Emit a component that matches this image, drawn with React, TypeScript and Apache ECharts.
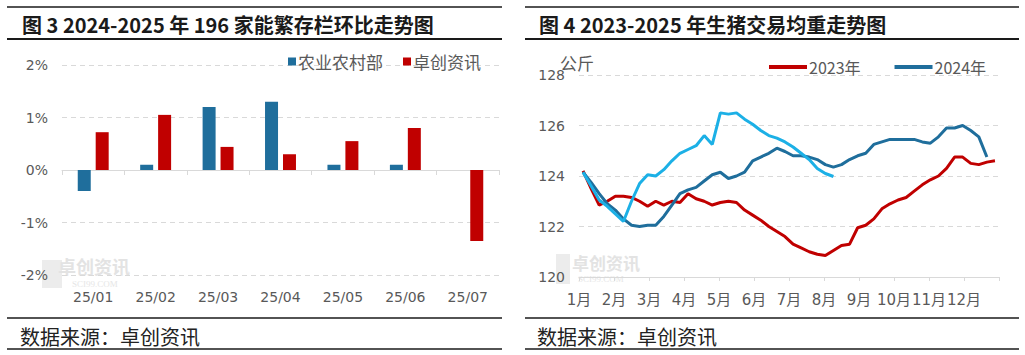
import React, { useEffect, useRef } from "react";
import * as echarts from "echarts";

// ---- Left chart (Fig. 3) ----
const barCategories = ["25/01", "25/02", "25/03", "25/04", "25/05", "25/06", "25/07"];
const moaValues: (number | null)[] = [-0.4, 0.1, 1.2, 1.3, 0.1, 0.1, null];
const sciValues: number[] = [0.72, 1.05, 0.44, 0.3, 0.55, 0.8, -1.35];

// ---- Right chart (Fig. 4) ----
const monthLabels = ["1月", "2月", "3月", "4月", "5月", "6月", "7月", "8月", "9月", "10月", "11月", "12月"];
const weekLabels = [
  "W1", "W2", "W3", "W4", "W5", "W6", "W7", "W8", "W9", "W10", "W11", "W12", "W13",
  "W14", "W15", "W16", "W17", "W18", "W19", "W20", "W21", "W22", "W23", "W24", "W25", "W26",
  "W27", "W28", "W29", "W30", "W31", "W32", "W33", "W34", "W35", "W36", "W37", "W38", "W39",
  "W40", "W41", "W42", "W43", "W44", "W45", "W46", "W47", "W48", "W49", "W50", "W51", "W52",
];
const weight2023 = [
  124.2, 123.5, 122.85, 123.0, 123.2, 123.2, 123.15, 123.0, 122.8, 123.0, 122.85, 123.0, 122.95,
  123.3, 123.1, 123.0, 122.85, 122.95, 123.0, 122.95, 122.65, 122.45, 122.25, 122.0, 121.8, 121.6,
  121.3, 121.15, 121.0, 120.9, 120.85, 121.05, 121.25, 121.3, 121.95, 122.05, 122.3, 122.7, 122.9,
  123.05, 123.15, 123.4, 123.65, 123.85, 124.0, 124.3, 124.75, 124.75, 124.5, 124.45, 124.55, 124.6,
];
const weight2024 = [
  124.15, 123.75, 123.3, 122.9, 122.65, 122.3, 122.05, 122.0, 122.05, 122.05, 122.4, 122.85, 123.3,
  123.45, 123.55, 123.8, 124.05, 124.15, 123.9, 124.0, 124.15, 124.6, 124.75, 124.9, 125.1, 124.97,
  124.8, 124.8, 124.75, 124.65, 124.45, 124.35, 124.45, 124.65, 124.8, 124.9, 125.25, 125.35, 125.45,
  125.45, 125.45, 125.45, 125.35, 125.3, 125.55, 125.9, 125.9, 126.0, 125.8, 125.55, 124.75,
];
const weight2025 = [
  124.15, 123.6, 123.05, 122.8, 122.5, 122.2, 123.0, 123.7, 124.05, 124.0, 124.25, 124.6, 124.9,
  125.05, 125.2, 125.6, 125.25, 126.5, 126.45, 126.5, 126.25, 126.05, 125.8, 125.6, 125.5, 125.35,
  125.15, 124.9, 124.65, 124.3, 124.1, 123.98,
];

const BLUE = "#1F6E9C";
const RED = "#C00000";
const LIGHT = "#1CB0E6";
const GRAY = "#595959";
const GRID_LINE = "#D9D9D9";
const NUM_FONT = "DejaVu Sans, Noto Sans CJK SC, sans-serif";
const CJK_FONT = "Noto Sans CJK SC, sans-serif";

function rule(x1: number, x2: number, y: number, w: number) {
  return {
    type: "line",
    shape: { x1, y1: y, x2, y2: y },
    style: { stroke: "#1a1a1a", lineWidth: w },
    silent: true,
  };
}

function label(text: string, x: number, y: number, fontSize: number, weight: string, fill: string, family = CJK_FONT) {
  return {
    type: "text",
    x,
    y,
    silent: true,
    style: {
      text,
      fontSize,
      fontWeight: weight,
      fontFamily: family,
      fill,
      align: "left",
      verticalAlign: "middle",
    },
  };
}

function watermark(rx: number, ry: number, rw: number, rh: number, tx: number, ty: number, ts: number, sx: number, sy: number, ss: number) {
  return {
    type: "group",
    silent: true,
    z: -10,
    children: [
      { type: "rect", shape: { x: rx, y: ry, width: rw, height: rh }, style: { fill: "#ececec" } },
      label("卓创资讯", tx, ty, ts, "bold", "#e3e3e3"),
      label("SCI99.COM", sx, sy, ss, "normal", "#e6e6e6", "Liberation Serif, serif"),
    ],
  };
}

export default function App() {
  const ref = useRef<HTMLDivElement>(null);

  useEffect(() => {
    document.body.style.margin = "0";
    if (!ref.current) return;
    const chart = echarts.init(ref.current, undefined, { renderer: "svg" });

    const option: any = {
      animation: false,
      backgroundColor: "#ffffff",
      textStyle: { fontFamily: NUM_FONT },
      grid: [
        { left: 62, top: 65, width: 437, height: 210 },
        { left: 579, top: 75, width: 420, height: 202 },
      ],
      legend: [
        {
          data: ["农业农村部", "卓创资讯"],
          left: 283,
          top: 48,
          icon: "rect",
          itemWidth: 8,
          itemHeight: 8,
          itemGap: 20,
          textStyle: { fontSize: 17, color: GRAY, fontFamily: CJK_FONT, padding: [0, 0, 0, -3] },
        },
        {
          data: ["2023年", "2024年"],
          left: 764,
          top: 54,
          icon: "rect",
          itemWidth: 38,
          itemHeight: 4,
          itemGap: 34,
          textStyle: { fontSize: 16, color: GRAY, fontFamily: CJK_FONT, padding: [0, 0, 0, -3] },
        },
      ],
      xAxis: [
        {
          type: "category",
          gridIndex: 0,
          data: barCategories,
          axisLine: { show: true, onZero: true, lineStyle: { color: GRID_LINE, width: 1 } },
          axisTick: { show: true, length: 5, lineStyle: { color: GRID_LINE } },
          axisLabel: { show: false },
          splitLine: { show: false },
        },
        {
          type: "category",
          gridIndex: 0,
          data: barCategories,
          position: "bottom",
          axisLine: { show: false, onZero: false },
          axisTick: { show: false },
          axisLabel: { margin: 15, fontSize: 14, color: GRAY, fontFamily: NUM_FONT },
          splitLine: { show: false },
        },
        {
          type: "category",
          gridIndex: 1,
          data: weekLabels,
          show: false,
        },
        {
          type: "value",
          gridIndex: 1,
          min: 0,
          max: 12,
          interval: 1,
          position: "bottom",
          axisLine: { show: true, onZero: false, lineStyle: { color: GRID_LINE } },
          axisTick: { show: true, length: 4, lineStyle: { color: GRID_LINE } },
          splitLine: { show: false },
          axisLabel: {
            margin: 15,
            fontSize: 15,
            color: GRAY,
            fontFamily: NUM_FONT,
            showMaxLabel: true,
            formatter: (v: number) => monthLabels[Math.round(v)] ?? "",
          },
        },
      ],
      yAxis: [
        {
          type: "value",
          gridIndex: 0,
          min: -2,
          max: 2,
          interval: 1,
          axisLine: { show: false },
          axisTick: { show: false },
          axisLabel: { margin: 14, fontSize: 14, color: GRAY, fontFamily: NUM_FONT, formatter: (v: number) => `${v}%` },
          splitLine: { show: true, lineStyle: { color: GRID_LINE, type: [5, 4] } },
        },
        {
          type: "value",
          gridIndex: 1,
          min: 120,
          max: 128,
          interval: 2,
          axisLine: { show: false, onZero: false },
          axisTick: { show: false },
          axisLabel: { margin: 14, fontSize: 14, color: GRAY, fontFamily: NUM_FONT },
          splitLine: { show: true, lineStyle: { color: GRID_LINE, type: [5, 4] } },
        },
      ],
      series: [
        {
          name: "农业农村部",
          type: "bar",
          xAxisIndex: 0,
          yAxisIndex: 0,
          data: moaValues,
          barWidth: 13,
          barGap: "38%",
          itemStyle: { color: BLUE },
        },
        {
          name: "卓创资讯",
          type: "bar",
          xAxisIndex: 0,
          yAxisIndex: 0,
          data: sciValues,
          barWidth: 13,
          barGap: "38%",
          itemStyle: { color: RED },
        },
        {
          name: "2023年",
          type: "line",
          xAxisIndex: 2,
          yAxisIndex: 1,
          data: weight2023,
          symbol: "none",
          lineStyle: { width: 3, color: RED },
          itemStyle: { color: RED },
        },
        {
          name: "2024年",
          type: "line",
          xAxisIndex: 2,
          yAxisIndex: 1,
          data: weight2024,
          symbol: "none",
          lineStyle: { width: 3, color: BLUE },
          itemStyle: { color: BLUE },
        },
        {
          name: "2025年",
          type: "line",
          xAxisIndex: 2,
          yAxisIndex: 1,
          data: weight2025,
          symbol: "none",
          lineStyle: { width: 3, color: LIGHT },
          itemStyle: { color: LIGHT },
        },
      ],
      graphic: [
        // left panel frame
        rule(7, 502, 7, 1.5),
        rule(7, 502, 39, 2),
        rule(7, 502, 318, 1.5),
        rule(7, 502, 349, 1.5),
        // right panel frame
        rule(525, 1019, 7, 1.5),
        rule(525, 1019, 39, 2),
        rule(525, 1019, 318, 1.5),
        rule(525, 1019, 349, 1.5),
        label("图 3 2024-2025 年 196 家能繁存栏环比走势图", 22, 24, 20, "bold", "#1a1a1a"),
        label("图 4 2023-2025 年生猪交易均重走势图", 539, 24, 20, "bold", "#1a1a1a"),
        label("数据来源：卓创资讯", 20, 336, 20, "normal", "#222222"),
        label("数据来源：卓创资讯", 537, 336, 20, "normal", "#222222"),
        label("公斤", 560, 62, 17, "normal", GRAY),
        watermark(42, 260, 20, 28, 58, 266, 18, 72, 284, 9),
        watermark(556, 254, 14, 30, 572, 262, 17, 578, 279, 9),
      ],
    };

    chart.setOption(option);
    return () => chart.dispose();
  }, []);

  return <div ref={ref} style={{ position: "fixed", left: 0, top: 0, width: 1025, height: 355 }} />;
}
